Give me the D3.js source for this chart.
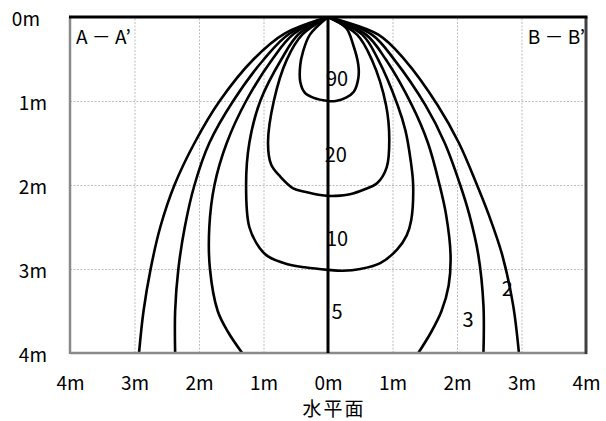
<!DOCTYPE html>
<html>
<head>
<meta charset="utf-8">
<script src="https://cdn.jsdelivr.net/npm/d3@7"></script>
<style>
  body { margin: 0; background: #fff; }
  text { font-family: "Noto Sans CJK JP", "Noto Sans", sans-serif; fill: #000; }
</style>
</head>
<body>
<svg></svg>
<script>
// ticks
const xTicks = [-4, -3, -2, -1, 0, 1, 2, 3, 4];
const xTickLabels = ["4m", "3m", "2m", "1m", "0m", "1m", "2m", "3m", "4m"];
const yTicks = [0, 1, 2, 3, 4];
const yTickLabels = ["0m", "1m", "2m", "3m", "4m"];
const xTitle = "水平面";
const sideLabels = ["A － A’", "B － B’"];

// contour lines, [horizontal m (A side negative), depth m]
const contour90 = [[0, 0], [-0.28, 0.21], [-0.39, 0.42], [-0.43, 0.57], [-0.43, 0.77], [-0.36, 0.9], [-0.23, 0.96], [0, 1.0],
  [0.12, 1.0], [0.28, 0.96], [0.40, 0.89], [0.47, 0.73], [0.47, 0.57], [0.39, 0.33], [0.28, 0.13], [0, 0]];
const contour20 = [[0, 0], [-0.40, 0.21], [-0.64, 0.51], [-0.84, 1.0], [-0.93, 1.5], [-0.88, 1.76], [-0.74, 1.90], [-0.54, 2.04],
  [-0.36, 2.08], [-0.12, 2.12], [0, 2.13], [0.12, 2.13], [0.34, 2.11], [0.57, 2.05], [0.76, 1.98], [0.91, 1.79], [0.95, 1.46],
  [0.90, 1.05], [0.68, 0.51], [0.45, 0.21], [0, 0]];
const contour10 = [[0, 0], [-0.45, 0.2], [-0.72, 0.5], [-1.05, 1.0], [-1.22, 1.5], [-1.27, 2.0], [-1.22, 2.5], [-1.06, 2.75],
  [-0.93, 2.85], [-0.64, 2.94], [-0.36, 2.98], [0, 3.01], [0.23, 3.02], [0.50, 3.0], [0.81, 2.93], [1.07, 2.77], [1.22, 2.6],
  [1.29, 2.42], [1.32, 2.0], [1.28, 1.70], [1.20, 1.35], [1.08, 1.05], [0.78, 0.51], [0.53, 0.21], [0, 0]];
const contour5A = [[0, 0], [-0.53, 0.2], [-0.86, 0.5], [-1.27, 1.0], [-1.57, 1.5], [-1.76, 2.0], [-1.84, 2.5], [-1.83, 3.0],
  [-1.71, 3.5], [-1.55, 3.75], [-1.33, 4.0]];
const contour5B = [[0, 0], [0.59, 0.21], [0.90, 0.51], [1.30, 1.05], [1.55, 1.5], [1.73, 2.0], [1.83, 2.35], [1.90, 2.83],
  [1.87, 3.2], [1.76, 3.5], [1.60, 3.75], [1.40, 4.0]];
const contour3A = [[0, 0], [-0.60, 0.2], [-0.99, 0.5], [-1.47, 1.0], [-1.84, 1.5], [-2.07, 2.0], [-2.22, 2.5], [-2.32, 3.0],
  [-2.37, 3.5], [-2.37, 4.0]];
const contour3B = [[0, 0], [0.68, 0.21], [1.03, 0.51], [1.51, 1.05], [1.81, 1.5], [2.05, 2.0], [2.19, 2.35], [2.33, 2.83],
  [2.41, 3.43], [2.41, 4.0]];
const contour2A = [[0, 0], [-0.68, 0.2], [-1.15, 0.5], [-1.68, 1.0], [-2.07, 1.5], [-2.38, 2.0], [-2.60, 2.5], [-2.75, 3.0],
  [-2.86, 3.5], [-2.93, 4.0]];
const contour2B = [[0, 0], [0.78, 0.21], [1.19, 0.51], [1.70, 1.05], [2.03, 1.5], [2.31, 2.0], [2.49, 2.35], [2.70, 2.83],
  [2.87, 3.43], [2.96, 4.0]];

const levels = ["90", "20", "10", "5", "3", "2"];
const levelLabelAt = [[0.14, 0.74], [0.12, 1.64], [0.14, 2.64], [0.14, 3.51], [2.17, 3.60], [2.78, 3.24]];

const w = 606, h = 421;
const pl = 70, pr = 586, pt = 17, pb = 353;

let svg = d3.select("svg").attr("width", w).attr("height", h);

let x = d3.scaleLinear().domain([-4, 4]).range([pl, pr]);
let y = d3.scaleLinear().domain([0, 4]).range([pt, pb]);

// grid
svg.append("g")
   .attr("transform", `translate(0, ${pb})`)
   .call(d3.axisBottom(x).tickValues(xTicks).tickSize(-(pb - pt)).tickFormat(""))
   .call(g => g.select(".domain").remove())
   .selectAll("line").attr("stroke", "#bdbdbd").attr("stroke-dasharray", "2,1.5");
svg.append("g")
   .attr("transform", `translate(${pl}, 0)`)
   .call(d3.axisLeft(y).tickValues(yTicks).tickSize(-(pr - pl)).tickFormat(""))
   .call(g => g.select(".domain").remove())
   .selectAll("line").attr("stroke", "#bdbdbd").attr("stroke-dasharray", "2,1.5");

// tick labels
let xAxis = svg.append("g")
   .attr("transform", `translate(0, ${pb + 20})`)
   .call(d3.axisBottom(x).tickValues(xTicks).tickSize(0).tickFormat((d, i) => xTickLabels[i]));
xAxis.select(".domain").remove();
xAxis.selectAll("text").attr("font-size", 19).attr("font-family", null);

let yAxis = svg.append("g")
   .attr("transform", `translate(${pl - 20}, 2)`)
   .call(d3.axisLeft(y).tickValues(yTicks).tickSize(0).tickFormat((d, i) => yTickLabels[i]));
yAxis.select(".domain").remove();
yAxis.selectAll("text").attr("font-size", 19).attr("font-family", null)
   .attr("dx", (d, i) => i == 0 ? -7 : 0);

svg.append("text")
   .attr("x", x(0) + 6).attr("y", 416)
   .attr("text-anchor", "middle")
   .attr("font-size", 19)
   .attr("letter-spacing", 2)
   .text(xTitle);

// contour lines
svg.append("clipPath").attr("id", "plot")
   .append("rect").attr("x", pl).attr("y", pt).attr("width", pr - pl).attr("height", pb - pt);

let line = d3.line()
   .x(d => x(d[0]))
   .y(d => y(d[1]))
   .curve(d3.curveCatmullRom.alpha(0.5));

let paths = [contour90, contour20, contour10, contour5A, contour5B, contour3A, contour3B, contour2A, contour2B];

// labels sit under the lines
svg.selectAll(".lvl")
   .data(levels)
   .enter()
   .append("text")
   .attr("class", "lvl")
   .attr("x", (d, i) => x(levelLabelAt[i][0]))
   .attr("y", (d, i) => y(levelLabelAt[i][1]))
   .attr("dy", "0.36em")
   .attr("text-anchor", "middle")
   .attr("font-size", 20)
   .text(d => d);

svg.append("g")
   .attr("clip-path", "url(#plot)")
   .selectAll("path")
   .data(paths)
   .enter()
   .append("path")
   .attr("d", line)
   .attr("fill", "none")
   .attr("stroke", "#000")
   .attr("stroke-width", 2.6);

// frame
svg.append("line").attr("x1", pl).attr("x2", pl).attr("y1", pt).attr("y2", pb + 1)
   .attr("stroke", "#8a8a8a").attr("stroke-width", 2.5);
svg.append("line").attr("x1", pl).attr("x2", pr + 1).attr("y1", pb).attr("y2", pb)
   .attr("stroke", "#8a8a8a").attr("stroke-width", 2.5);
svg.append("line").attr("x1", pr).attr("x2", pr).attr("y1", pt).attr("y2", pb + 1)
   .attr("stroke", "#404040").attr("stroke-width", 3);
svg.append("line").attr("x1", pl - 1).attr("x2", pr + 1.5).attr("y1", pt).attr("y2", pt)
   .attr("stroke", "#000").attr("stroke-width", 3);
svg.append("line").attr("x1", x(0)).attr("x2", x(0)).attr("y1", pt).attr("y2", pb)
   .attr("stroke", "#000").attr("stroke-width", 3);

svg.append("text").attr("x", pl + 6).attr("y", pt + 27)
   .attr("font-size", 19).text(sideLabels[0]);
svg.append("text").attr("x", pr - 1).attr("y", pt + 27)
   .attr("text-anchor", "end")
   .attr("font-size", 19).text(sideLabels[1]);
</script>
</body>
</html>
